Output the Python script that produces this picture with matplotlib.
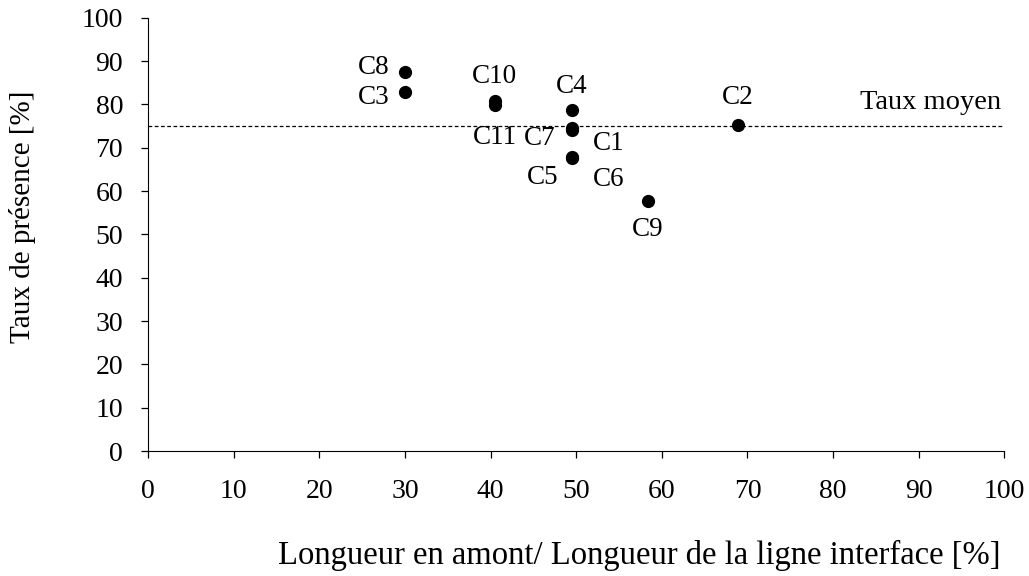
import matplotlib
matplotlib.use('Agg')
import matplotlib.pyplot as plt

plt.rcParams['font.family'] = ['Liberation Serif', 'DejaVu Serif']

# data
labels = ['C1', 'C2', 'C3', 'C4', 'C5', 'C6', 'C7', 'C8', 'C9', 'C10', 'C11']
x_amont = [49.5, 68.9, 30.0, 49.5, 49.5, 49.5, 49.5, 30.0, 58.4, 40.5, 40.5]
taux = [74.6, 75.2, 82.8, 78.7, 67.6, 67.9, 74.0, 87.6, 57.8, 80.8, 79.8]
taux_moyen = 75.0

# label offsets in points (dx, dy, ha)
offsets = {
    'C1': (15, -11, 'left'), 'C2': (0, 20, 'center'), 'C3': (-11, -3.5, 'right'),
    'C4': (0, 17, 'center'), 'C5': (-10, -14, 'right'), 'C6': (15, -16, 'left'),
    'C7': (-12, -6, 'right'), 'C8': (-11, 3, 'right'), 'C9': (0, -21, 'center'),
    'C10': (0, 18, 'center'), 'C11': (0, -23, 'center'),
}

fig = plt.figure(figsize=(10.29, 5.76), dpi=100)
ax = fig.add_axes([0.144, 0.217, 0.832, 0.752])
ax.axhline(taux_moyen, color='k', lw=0.9, ls=(0, (3, 2)))
ax.plot(x_amont, taux, 'o', color='k', ms=8.5, zorder=3)
for lab, xv, yv in zip(labels, x_amont, taux):
    dx, dy, ha = offsets[lab]
    ax.annotate(lab, (xv, yv), xytext=(dx, dy), textcoords='offset points',
                ha=ha, va='center', fontsize=19.5)
ax.text(99.6, taux_moyen + 2.6, 'Taux moyen', ha='right', va='bottom', fontsize=20.5)

ax.set_xlim(0, 100)
ax.set_ylim(0, 100)
ax.set_xticks(range(0, 101, 10))
ax.set_yticks(range(0, 101, 10))
ax.tick_params(labelsize=20, direction='out', length=5, width=0.9)
ax.tick_params(axis='x', pad=15)
ax.tick_params(axis='y', pad=13)
ax.spines['top'].set_visible(False)
ax.spines['right'].set_visible(False)
ax.set_xlabel('Longueur en amont/ Longueur de la ligne interface [%]', fontsize=23.5, va='center')
ax.set_ylabel('Taux de présence [%]', fontsize=21, va='center')
ax.xaxis.set_label_coords(0.574, -0.242)
ax.yaxis.set_label_coords(-0.147, 0.54)
fig.savefig('out.png')
